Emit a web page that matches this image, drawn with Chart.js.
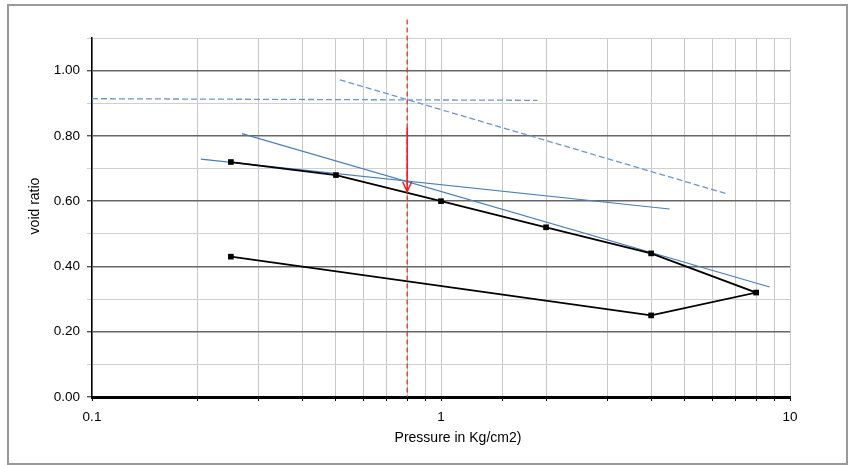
<!DOCTYPE html>
<html>
<head>
<meta charset="utf-8">
<script src="https://cdn.jsdelivr.net/npm/chart.js@4.4.1/dist/chart.umd.min.js"></script>
<style>
  html, body { margin: 0; padding: 0; background: #fff; }
  body { width: 848px; height: 465px; position: relative; overflow: hidden; font-family: "Liberation Sans", Arial, sans-serif; }
  #c { position: absolute; left: 0; top: 0; }
  #frame { position: absolute; left: 7px; top: 4px; width: 841px; height: 461px; border: 2px solid #9a9a9a; box-sizing: border-box; pointer-events: none; }
  .t { position: absolute; white-space: nowrap; line-height: 1; color: #000; font-size: 14px; }
  #xt { left: 458px; top: 437px; transform: translate(-50%, -50%); }
  #yt { left: 34px; top: 206px; transform: translate(-50%, -50%) rotate(-90deg); }
</style>
</head>
<body>
<canvas id="c" width="848" height="465"></canvas>
<div id="frame"></div>
<div class="t" id="xt">Pressure in Kg/cm2)</div>
<div class="t" id="yt">void ratio</div>
<script>
// ---- data ----
const pressure   = [0.25, 0.5, 1, 2, 4, 8, 4, 0.25];
const voidRatio  = [0.72, 0.68, 0.60, 0.52, 0.44, 0.32, 0.25, 0.43];

const blueFlatX  = [0.205, 4.52];
const blueFlatY  = [0.729, 0.576];
const blueSteepX = [0.269, 8.74];
const blueSteepY = [0.807, 0.337];
const dashHorizX = [0.1, 1.89];
const dashHorizY = [0.914, 0.909];
const dashSlopeX = [0.513, 6.57];
const dashSlopeY = [0.972, 0.623];
const redLineX   = [0.8, 0.8];
const redLineY   = [1.157, 0];
const arrowX     = [0.8, 0.8];
const arrowY     = [0.825, 0.629];

const xTickLabels = [0.1, 1, 10];
const yMajorTicks = [0, 0.2, 0.4, 0.6, 0.8, 1.0];

const pts = (xs, ys) => xs.map((x, i) => ({x: x, y: ys[i]}));

const blue = '#4a7ebb';
const blueDash = '#6d96cc';
const red = '#ff1a1a';

const arrowHead = {
  id: 'arrowHead',
  afterDatasetsDraw(chart) {
    const idx = chart.data.datasets.findIndex(d => d.label === 'arrow');
    const meta = chart.getDatasetMeta(idx);
    const p = meta.data[meta.data.length - 1];
    const ctx = chart.ctx;
    ctx.save();
    ctx.strokeStyle = red;
    ctx.lineWidth = 1.5;
    ctx.beginPath();
    ctx.moveTo(p.x - 4.5, p.y - 10);
    ctx.lineTo(p.x, p.y);
    ctx.lineTo(p.x + 4.5, p.y - 10);
    ctx.stroke();
    ctx.restore();
  }
};

const isMajorY = v => Math.abs(Math.round(v * 10) % 2) === 0 && v <= 1.0001;

new Chart(document.getElementById('c'), {
  type: 'line',
  data: {
    datasets: [
      { label: 'arrow', data: pts(arrowX, arrowY), borderColor: red, borderWidth: 1.6, pointRadius: 0, order: 0 },
      { label: 'consolidation', data: pts(pressure, voidRatio), borderColor: '#000', borderWidth: 1.8,
        pointStyle: 'rect', pointRadius: 4, pointBackgroundColor: '#000', pointBorderColor: '#000', pointBorderWidth: 0, order: 1 },
      { label: 'blueFlat', data: pts(blueFlatX, blueFlatY), borderColor: blue, borderWidth: 1.2, pointRadius: 0, order: 2 },
      { label: 'blueSteep', data: pts(blueSteepX, blueSteepY), borderColor: blue, borderWidth: 1.2, pointRadius: 0, order: 2 },
      { label: 'dashHoriz', data: pts(dashHorizX, dashHorizY), borderColor: blueDash, borderWidth: 1.3, borderDash: [6, 3], pointRadius: 0, order: 3 },
      { label: 'dashSlope', data: pts(dashSlopeX, dashSlopeY), borderColor: blueDash, borderWidth: 1.3, borderDash: [6, 3], pointRadius: 0, order: 3 },
      { label: 'redLine', data: pts(redLineX, redLineY), borderColor: red, borderWidth: 1.2, borderDash: [5, 3], pointRadius: 0, clip: false, order: 0 }
    ]
  },
  options: {
    responsive: false,
    animation: false,
    devicePixelRatio: 1,
    layout: { padding: { left: 8, top: 38, right: 58, bottom: 8 } },
    plugins: { legend: { display: false }, tooltip: { enabled: false } },
    elements: { line: { tension: 0 } },
    scales: {
      x: {
        type: 'logarithmic',
        min: 0.1, max: 10,
        afterFit: s => { s.height = 60; },
        border: { color: '#000', width: 3 },
        grid: { color: '#c8c8c8', lineWidth: 1, tickColor: '#000', tickLength: 4 },
        ticks: {
          autoSkip: false, maxRotation: 0, padding: 8,
          color: '#000', font: { family: '"Liberation Sans", Arial, sans-serif', size: 13.5 },
          callback: v => xTickLabels.some(t => Math.abs(t - v) < 1e-9) ? String(v) : ''
        }
      },
      y: {
        type: 'linear',
        min: 0, max: 1.1,
        afterFit: s => { s.width = 84; },
        border: { color: '#000', width: 1.5 },
        grid: {
          color: c => isMajorY(c.tick.value) ? '#666' : '#d0d0d0',
          lineWidth: c => isMajorY(c.tick.value) ? 1.4 : 1,
          tickColor: c => isMajorY(c.tick.value) ? '#555' : '#d0d0d0',
          tickLength: 5
        },
        ticks: {
          stepSize: 0.1, autoSkip: false, padding: 7,
          color: '#000', font: { family: '"Liberation Sans", Arial, sans-serif', size: 13.5 },
          callback: v => yMajorTicks.some(t => Math.abs(t - v) < 1e-6) ? v.toFixed(2) : ''
        }
      }
    }
  },
  plugins: [arrowHead]
});
</script>
</body>
</html>
